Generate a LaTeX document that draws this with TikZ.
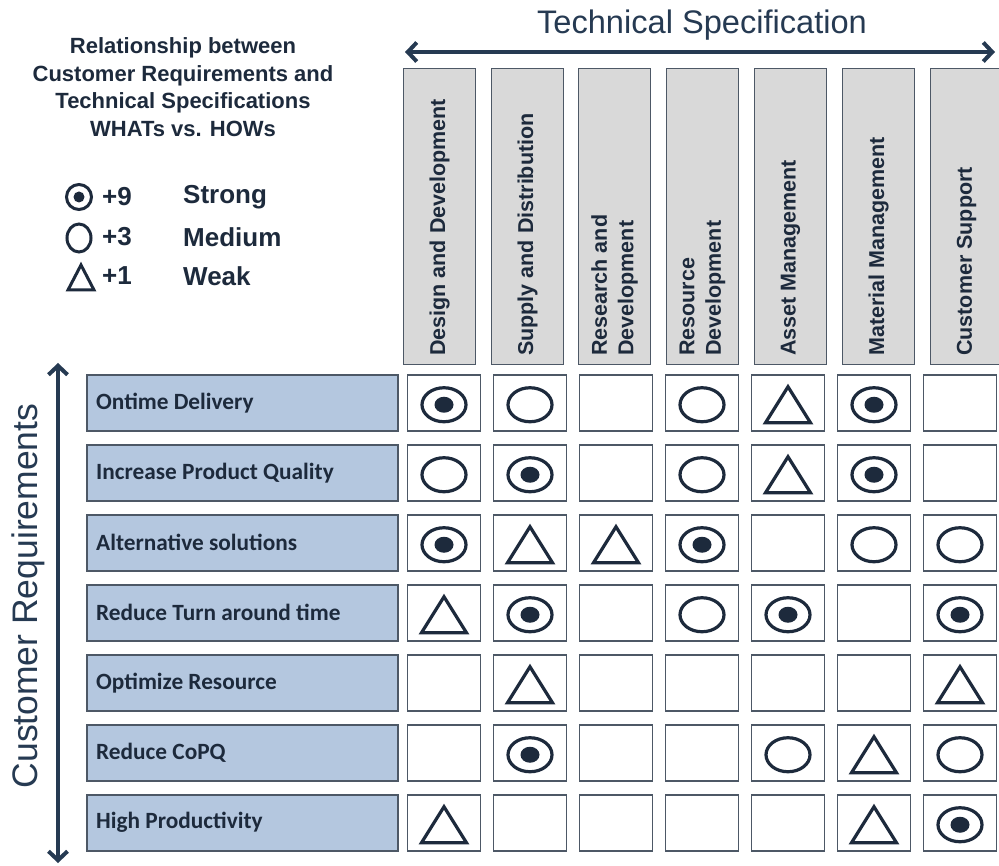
\documentclass[tikz,border=0pt]{standalone}
\usepackage{fontspec}
\setmainfont{Liberation Sans}
\newfontfamily\labfont{Carlito}
\usetikzlibrary{arrows.meta}
\definecolor{qnavy}{HTML}{1D2A3C}
\definecolor{qarrow}{HTML}{263A52}
\definecolor{qborder}{HTML}{4D5866}
\definecolor{qhead}{HTML}{D9D9D9}
\definecolor{qlab}{HTML}{B4C7DF}
\begin{document}
\begin{tikzpicture}[x=1pt,y=-1pt,
  hdr/.style={draw=qborder,line width=1.6pt,fill=qhead,minimum width=72pt,minimum height=296pt,inner sep=0pt},
  htxt/.style={rotate=90,anchor=west,align=left,text=qnavy,font=\bfseries\fontsize{21.5}{26.5}\selectfont,inner sep=0pt},
  cell/.style={draw=qborder,line width=1.6pt,fill=white,minimum width=73pt,minimum height=56pt,inner sep=0pt},
  labbox/.style={draw=qborder,line width=1.6pt,fill=qlab,minimum width=311pt,minimum height=56pt,inner sep=0pt,anchor=west},
  labtxt/.style={anchor=west,text=qnavy,font=\labfont\bfseries\fontsize{23.3}{26}\selectfont,inner sep=0pt},
  symline/.style={draw=qnavy,line width=3.2pt},
  bigarrow/.style={draw=qarrow,line width=4pt,{Straight Barb[length=9pt,width=19pt]}-{Straight Barb[length=9pt,width=19pt]}},
  legtxt/.style={anchor=west,text=qnavy,font=\bfseries\fontsize{26}{30}\selectfont,inner sep=0pt},
  symS/.pic={\draw[symline] (0,2) ellipse [x radius=22, y radius=17];
             \fill[qnavy] (0,2) ellipse [x radius=9.5, y radius=8];},
  symM/.pic={\draw[symline] (0,2) ellipse [x radius=22, y radius=17];},
  symW/.pic={\draw[symline,line join=miter] (0,-16) -- (22.5,20) -- (-22.5,20) -- cycle;},
  symN/.pic={}
]
\useasboundingbox (0,0) rectangle (999,866);
\clip (0,0) rectangle (999,866);
\fill[white] (0,0) rectangle (999,866);

% title and top arrow
\node[text=qarrow,font=\fontsize{32.6}{36}\selectfont,inner sep=0pt] (title) at (702,25) {Technical Specification};
\coordinate (hl) at (405,52);
\coordinate (hr) at (995,52);
\draw[bigarrow] (hl) -- (hr);

% legend
\node[align=center,text=qnavy,font=\bfseries\fontsize{22}{27.7}\selectfont,inner sep=0pt] (legtitle) at (183,87)
  {Relationship between\\Customer Requirements and\\Technical Specifications\\WHATs vs. HOWs};
\draw[draw=qnavy,line width=3pt] (79,197) circle [radius=12.5];
\fill[qnavy] (79,197) circle [radius=5.5];
\draw[draw=qnavy,line width=3pt] (79,238) ellipse [x radius=12, y radius=14];
\draw[draw=qnavy,line width=3pt,line join=miter] (81,265) -- (94,290) -- (68,290) -- cycle;
\node[legtxt] (p9) at (102,197) {+9};
\node[legtxt] (p3) at (102,237) {+3};
\node[legtxt] (p1) at (102,276) {+1};
\node[legtxt] (ls) at (183,197) {Strong};
\node[legtxt] (lm) at (183,237) {Medium};
\node[legtxt] (lw) at (183,276) {Weak};

% headers
\node[hdr] (h1) at (439.5,216.5) {};
\node[hdr] (h2) at (527.5,216.5) {};
\node[hdr] (h3) at (614.5,216.5) {};
\node[hdr] (h4) at (702.5,216.5) {};
\node[hdr] (h5) at (790.5,216.5) {};
\node[hdr] (h6) at (878.5,216.5) {};
\node[hdr] (h7) at (966.5,216.5) {};
\node[htxt] (t1) at (439.5,356) {Design and Development};
\node[htxt] (t2) at (527.5,356) {Supply and Distribution};
\node[htxt] (t3) at (614.5,356) {Research and\\Development};
\node[htxt] (t4) at (702.5,356) {Resource\\Development};
\node[htxt] (t5) at (790.5,356) {Asset Management};
\node[htxt] (t6) at (878.5,356) {Material Management};
\node[htxt] (t7) at (966.5,356) {Customer Support};

% left arrow and label
\node[rotate=90,anchor=base,text=qarrow,font=\fontsize{35.5}{40}\selectfont,inner sep=0pt] (creq) at (37,596) {Customer Requirements};
\coordinate (vt) at (58,363);
\coordinate (vb) at (58,863);
\draw[bigarrow] (vt) -- (vb);

% requirement rows
\foreach \r/\txt in {1/Ontime Delivery,2/Increase Product Quality,3/Alternative solutions,
                     4/Reduce Turn around time,5/Optimize Resource,6/Reduce CoPQ,7/High Productivity}{
  \node[labbox] (l-\r) at (86,{402.75+70*(\r-1)}) {};
  \node[labtxt] (lt-\r) at (96,{402.75+70*(\r-1)}) {\txt};
}

% cells
\foreach \r in {1,...,7}{
  \foreach \c in {1,...,7}{
    \node[cell] (c-\r-\c) at ({444+86*(\c-1)},{402.75+70*(\r-1)}) {};
  }
}

% symbols
\foreach \r/\row in {1/{S,M,N,M,W,S,N},2/{M,S,N,M,W,S,N},3/{S,W,W,S,N,M,M},
                     4/{W,S,N,M,S,N,S},5/{N,W,N,N,N,N,W},6/{N,S,N,N,M,W,M},7/{W,N,N,N,N,W,S}}{
  \foreach \s [count=\c] in \row {
    \pic at (c-\r-\c) {sym\s};
  }
}
\end{tikzpicture}
\end{document}
